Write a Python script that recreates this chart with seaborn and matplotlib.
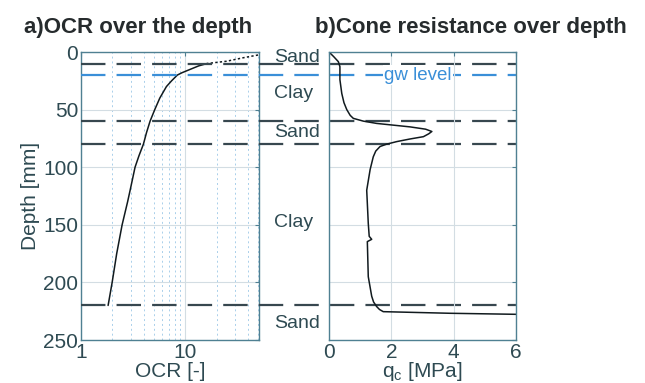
import numpy as np
import matplotlib
matplotlib.use("Agg")
import matplotlib.pyplot as plt
import matplotlib.transforms as mtransforms
import seaborn as sns
from matplotlib.ticker import LogLocator, NullFormatter

# OCR profile (panel a)
ocr_depth = [10, 12, 15, 18, 20, 25, 30, 40, 50, 60, 70, 80, 90, 100, 120, 130,
             150, 175, 200, 220]
ocr_value = [16.2, 13.5, 11.2, 9.3, 8.4, 7.4, 6.6, 5.7, 5.1, 4.6, 4.25, 3.97, 3.6,
             3.3, 2.96, 2.8, 2.48, 2.2, 1.99, 1.82]
ocr_top_depth = [2.6, 5, 8, 10]
ocr_top_value = [50, 36, 25, 16.2]

# cone resistance (panel b)
qc_depth = [0, 4, 8.4, 12.7, 24, 36, 44, 50, 55, 57.6, 60, 62, 65, 67, 69, 71, 73.5,
            75.5, 77.8, 80, 82, 86, 91, 102, 120, 148.7, 160, 162.6, 164.6, 195,
            212, 217, 221, 223.5, 225.4, 226.8, 227.7]
qc_value = [0, 0.15, 0.30, 0.35, 0.35, 0.41, 0.48, 0.57, 0.68, 0.78, 1.1, 1.53, 2.6,
            3.1, 3.3, 3.2, 3.03, 2.6, 2.17, 1.85, 1.64, 1.5, 1.42, 1.32, 1.21, 1.26,
            1.29, 1.37, 1.23, 1.26, 1.37, 1.43, 1.53, 1.62, 1.74, 3.88, 6.0]

layer_bounds = [10, 60, 80, 220]
gw_level = 20
layer_names = ["Sand", "Clay", "Sand", "Clay", "Sand"]
layer_label_depth = [5, 36, 70, 148, 236]

sns.set_style("white")
plt.rcParams['font.family'] = ['Liberation Sans', 'DejaVu Sans']
plt.rcParams['mathtext.fontset'] = 'custom'
plt.rcParams['mathtext.rm'] = 'Liberation Sans'
plt.rcParams['mathtext.it'] = 'Liberation Sans'

spine_c = "#4f8092"
text_c = "#2e4a52"
dash_c = "#37474f"
blue_c = "#3a8fd8"
grid_c = "#d3dde3"
line_c = "#111a1e"

fig = plt.figure(figsize=(6.45, 3.83), dpi=100)
ax1 = fig.add_axes([81/645, 1-340/383, 178/645, 288/383])
ax2 = fig.add_axes([329/645, 1-340/383, 187/645, 288/383])
ax2.set_facecolor('none')

# panel a
sns.lineplot(x=ocr_value, y=ocr_depth, sort=False, estimator=None, ax=ax1,
             color=line_c, lw=1.1)
sns.lineplot(x=ocr_top_value, y=ocr_top_depth, sort=False, estimator=None, ax=ax1,
             color=line_c, lw=1.1, linestyle=(0, (1.5, 1.5)))
ax1.set_xscale('log')
ax1.set_xlim(1, 51)
ax1.set_ylim(250, 0)
ax1.set_yticks([0, 50, 100, 150, 200, 250])
ax1.set_xticks([1, 10])
ax1.set_xticklabels(["1", "10"])
ax1.xaxis.set_minor_locator(LogLocator(subs=np.arange(2, 10)))
ax1.xaxis.set_minor_formatter(NullFormatter())
ax1.grid(True, which='major', color=grid_c, lw=0.8)
ax1.grid(True, which='minor', axis='x', color="#a9cfea", lw=0.7, linestyle=(0, (2, 3)))
ax1.set_xlabel("OCR [-]", fontsize=15, color=text_c, labelpad=0)
ax1.set_ylabel("Depth [mm]", fontsize=15, color=text_c, labelpad=2)
ax1.set_title("a)OCR over the depth", fontsize=16, fontweight='bold', color="#262b2d",
              x=0.32, pad=14)

# panel b
sns.lineplot(x=qc_value, y=qc_depth, sort=False, estimator=None, ax=ax2,
             color=line_c, lw=1.1)
ax2.set_xlim(0, 6)
ax2.set_ylim(250, 0)
ax2.set_xticks([0, 2, 4, 6])
ax2.set_yticks([0, 50, 100, 150, 200, 250])
ax2.set_yticklabels([])
ax2.grid(True, color=grid_c, lw=0.8)
ax2.set_xlabel(r"q$_\mathregular{c}$ [MPa]", fontsize=15, color=text_c, labelpad=-1.5)
ax2.set_title("b)Cone resistance over depth", fontsize=16, fontweight='bold',
              color="#262b2d", x=0.757, pad=14)

for ax in (ax1, ax2):
    for s in ax.spines.values():
        s.set_color(spine_c)
        s.set_linewidth(1.0)
    ax.tick_params(which='both', direction='in', top=True, right=True, color=spine_c,
                   labelcolor=text_c, labelsize=15, length=3, pad=2)
    ax.tick_params(which='minor', length=0)
    ax.set_axisbelow(True)

# layer boundaries run across both panels
span = (516 - 81) / 178
for d in layer_bounds:
    ax1.plot([0, span], [d, d], transform=ax1.get_yaxis_transform(), clip_on=False,
             color=dash_c, lw=1.6, dashes=(11, 5), zorder=3)
ax1.plot([0, span], [gw_level, gw_level], transform=ax1.get_yaxis_transform(),
         clip_on=False, color=blue_c, lw=1.6, dashes=(11, 5), zorder=3)
ax2.text(2.85, gw_level, "gw level", color=blue_c, fontsize=13.5, ha='center', va='center',
         bbox=dict(facecolor='white', edgecolor='none', pad=1), zorder=4)

label_tr = mtransforms.blended_transform_factory(fig.transFigure, ax1.transData)
for name, d in zip(layer_names, layer_label_depth):
    ax1.text(274/645, d, name, transform=label_tr, fontsize=14, color=text_c,
             ha='left', va='center', clip_on=False)

fig.savefig("out.png", dpi=100)
